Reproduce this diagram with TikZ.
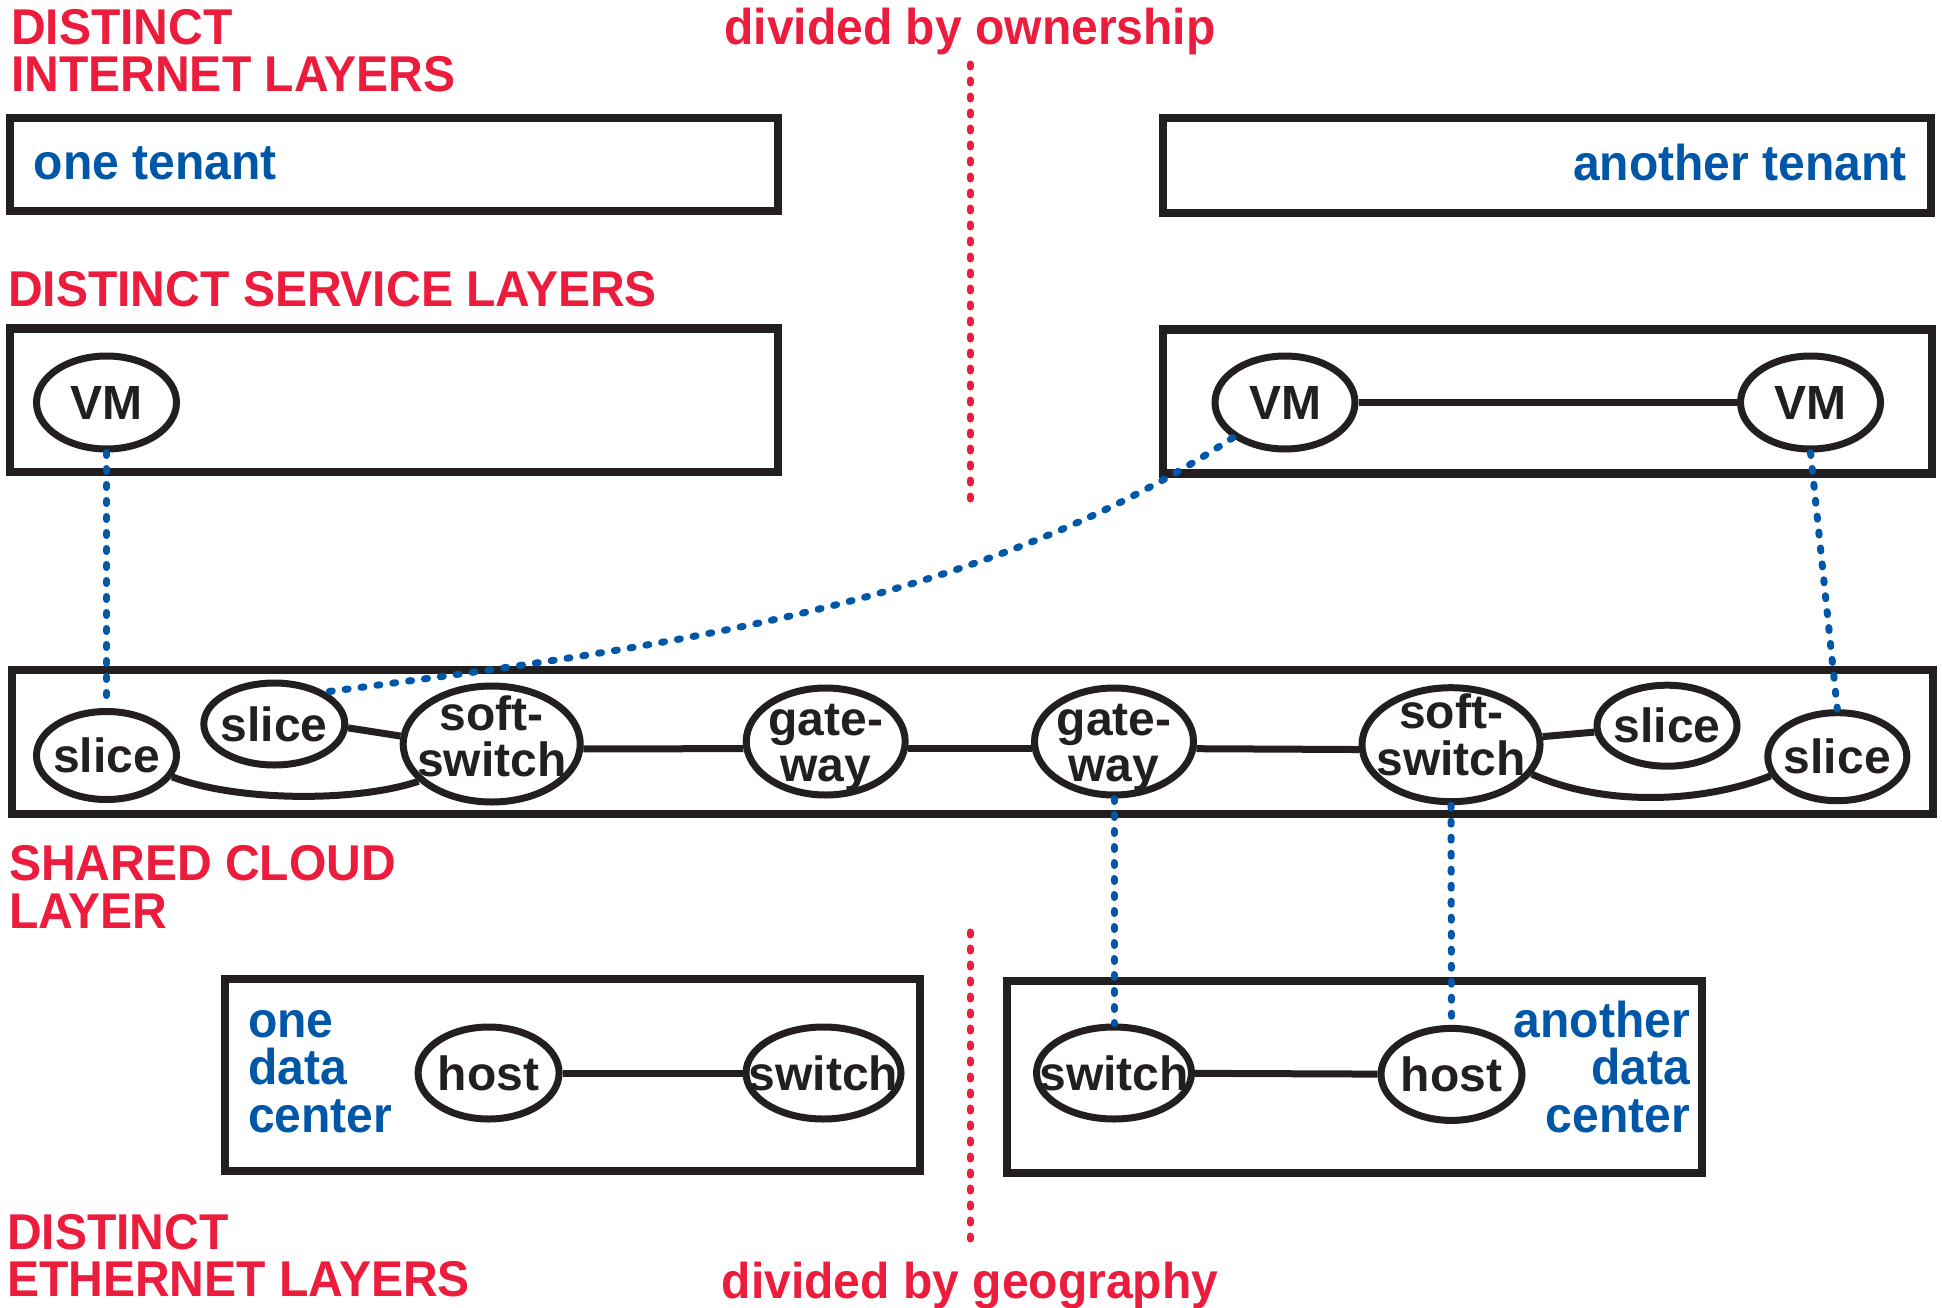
\documentclass[tikz,border=0pt]{standalone}
\usepackage{fontspec}
\setmainfont{Liberation Sans}
\newfontfamily\tagfont{Liberation Sans}[FakeStretch=0.955]
\usetikzlibrary{shapes.geometric}

\definecolor{tagred}{HTML}{EC1C3D}
\definecolor{tagblue}{HTML}{0057A7}
\definecolor{ink}{HTML}{231F20}

% stacked lines, set on the first line's baseline
\newcommand\leftlines[1]{\vtop{\halign{##\hfil\cr#1\crcr}}}
\newcommand\rightlines[1]{\vtop{\halign{\hfil##\cr#1\crcr}}}
\newcommand\midlines[1]{\vtop{\halign{\hfil##\hfil\cr#1\crcr}}}

\begin{document}
\begin{tikzpicture}[x=1pt,y=-1pt,
  layer/.style={draw=ink, line width=8.5pt},
  elem/.style={ellipse, draw=ink, line width=7pt, inner sep=0pt},
  wire/.style={draw=ink, line width=7pt},
  bdots/.style={draw=tagblue, line width=7pt, line cap=round, dash pattern=on 3pt off 13pt},
  rdots/.style={draw=tagred, line width=7pt, line cap=round, dash pattern=on 3pt off 13pt},
  title/.style={text=tagred, inner sep=0pt, font=\tagfont\bfseries\fontsize{50.3}{47.4}\selectfont},
  owner/.style={text=tagblue, inner sep=0pt, font=\tagfont\bfseries\fontsize{50.3}{47.6}\selectfont},
  ntext/.style={text=ink, inner sep=0pt, font=\bfseries\fontsize{48}{46.7}\selectfont}]

\useasboundingbox (0,0) rectangle (1942,1308);

% ---- layer frames
\draw[layer] (10,118) rectangle (778,211);
\draw[layer] (1163,118) rectangle (1931,213);
\draw[layer] (10,328.5) rectangle (778,472);
\draw[layer] (1163,329.5) rectangle (1932,473.5);
\draw[layer] (12,670) rectangle (1933,814);
\draw[layer] (225,979) rectangle (920,1171);
\draw[layer] (1007,981) rectangle (1702,1173);

% ---- dividers
\coordinate (own-a) at (970,64);
\coordinate (own-b) at (970,502);
\coordinate (geo-a) at (970,932);
\coordinate (geo-b) at (970,1242);
\draw[rdots] (own-a) -- (own-b);
\draw[rdots] (geo-a) -- (geo-b);

% ---- headings
\node[title, anchor=base west] (h-inet) at (11,44.3) {\leftlines{DISTINCT\cr INTERNET LAYERS}};
\node[title, anchor=base west] (h-serv) at (8,306.7) {DISTINCT SERVICE LAYERS};
\node[title, anchor=base west] (h-cloud) at (9,880.7) {\leftlines{SHARED CLOUD\cr LAYER}};
\node[title, anchor=base west] (h-eth) at (7,1249) {\leftlines{DISTINCT\cr ETHERNET LAYERS}};
\node[title, anchor=base] (h-own) at (970,44.3) {divided by ownership};
\node[title, anchor=base] (h-geo) at (970,1298) {divided by geography};

% ---- tenant and data-center labels
\node[owner, anchor=base west] (l-t1) at (33.5,180) {one tenant};
\node[owner, anchor=base east] (l-t2) at (1907,181) {another tenant};
\node[owner, anchor=base west] (l-dc1) at (248,1037) {\leftlines{one\cr data\cr center}};
\node[owner, anchor=base east] (l-dc2) at (1690,1037) {\rightlines{another\cr data\cr center}};

% ---- service layer
\node[elem, minimum width=140pt, minimum height=93pt] (vmL) at (106.5,402.5) {};
\node[elem, minimum width=140pt, minimum height=93pt] (vmA) at (1285,402.5) {};
\node[elem, minimum width=140pt, minimum height=93pt] (vmB) at (1810.5,402.5) {};
\node[ntext] (vmL-t) at (vmL) {VM};
\node[ntext] (vmA-t) at (vmA) {VM};
\node[ntext] (vmB-t) at (vmB) {VM};

% ---- shared cloud layer
\node[elem, minimum width=140pt, minimum height=88pt] (slice1) at (106.5,755.5) {};
\node[elem, minimum width=141pt, minimum height=82pt] (slice2) at (274.3,724) {};
\node[elem, minimum width=177pt, minimum height=116pt] (ssL) at (491.7,744) {};
\node[elem, minimum width=159pt, minimum height=107pt] (gwL) at (825.7,741.5) {};
\node[elem, minimum width=159pt, minimum height=107pt] (gwR) at (1114,741.5) {};
\node[elem, minimum width=178pt, minimum height=114pt] (ssR) at (1451,744.7) {};
\node[elem, minimum width=140pt, minimum height=81pt] (sliceRu) at (1667,725.7) {};
\node[elem, minimum width=139pt, minimum height=88pt] (sliceRb) at (1837.3,756.7) {};

\node[ntext] (slice1-t) at (slice1) {slice};
\node[ntext] (slice2-t) at (slice2) {slice};
\node[ntext] (sliceRu-t) at (sliceRu) {slice};
\node[ntext] (sliceRb-t) at (sliceRb) {slice};
\node[ntext, anchor=base] (ssL-t) at ([yshift=14pt]ssL.center) {\midlines{soft-\cr switch}};
\node[ntext, anchor=base] (ssR-t) at ([yshift=16pt]ssR.center) {\midlines{soft-\cr switch}};
\node[ntext, anchor=base] (gwL-t) at ([yshift=6.5pt]gwL.center) {\midlines{gate-\cr way}};
\node[ntext, anchor=base] (gwR-t) at ([yshift=6.5pt]gwR.center) {\midlines{gate-\cr way}};

% ---- ethernet layers
\node[elem, minimum width=141pt, minimum height=92pt] (hostL) at (488.6,1073) {};
\node[elem, minimum width=155pt, minimum height=92pt] (switchL) at (823.5,1073) {};
\node[elem, minimum width=155pt, minimum height=92pt] (switchR) at (1114,1073) {};
\node[elem, minimum width=141pt, minimum height=92pt] (hostR) at (1451.5,1074.4) {};
\node[ntext] (hostL-t) at (hostL) {host};
\node[ntext] (switchL-t) at (switchL) {switch};
\node[ntext] (switchR-t) at (switchR) {switch};
\node[ntext] (hostR-t) at (hostR) {host};

% ---- links inside layers
\draw[wire] (vmA) -- (vmB);
\draw[wire] (slice2.-3) -- (ssL.175);
\draw[wire] (slice1.-18) .. controls +(65,25) and +(-62,21) .. (ssL.207);
\draw[wire] (ssL.-3) -- (gwL.185);
\draw[wire] (gwL.-5) -- (gwR.185);
\draw[wire] (gwR.-5) -- (ssR.183);
\draw[wire] (ssR) -- (sliceRu);
\draw[wire] (ssR.-20) .. controls +(70,32) and +(-70,28) .. (sliceRb.196);
\draw[wire] (hostL) -- (switchL);
\draw[wire] (switchR) -- (hostR);

% ---- mappings between layers
\draw[bdots] (vmL.south) -- (slice1.north);
\draw[bdots] (vmA.214) .. controls +(-250,165) and +(350,-45.5) .. (slice2.32);
\draw[bdots] (vmB.south) -- (sliceRb.north);
\draw[bdots] (gwR.south) -- (switchR.north);
\draw[bdots] (ssR.south) -- (hostR.north);

\end{tikzpicture}
\end{document}
